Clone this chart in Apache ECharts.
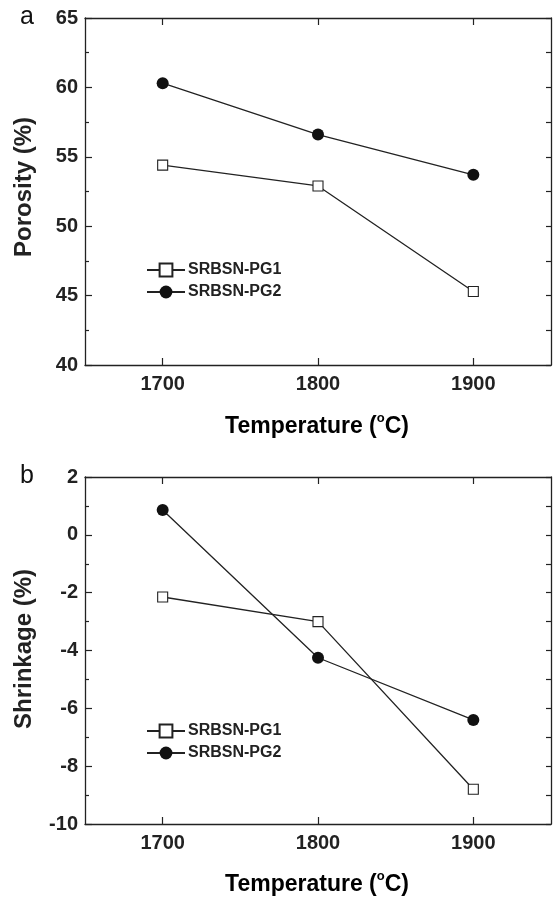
<!DOCTYPE html>
<html>
<head>
<meta charset="utf-8">
<script src="https://cdn.jsdelivr.net/npm/echarts@6/dist/echarts.min.js"></script>
<style>
  html, body { margin: 0; padding: 0; background: #fff; }
  #myChart { width: 553px; height: 899px; }
</style>
</head>
<body>
<div id="myChart"></div>
<script>
// temperatures (°C)
var temps = [1700, 1800, 1900]
var tickTemps = [1700, 1800, 1900]
// panel a - porosity (%)
var porosityPG1 = [54.4, 52.9, 45.3]
var porosityPG2 = [60.3, 56.6, 53.7]
// panel b - shrinkage (%)
var shrinkPG1 = [-2.15, -3.0, -8.8]
var shrinkPG2 = [0.86, -4.25, -6.4]
var seriesNames = ['SRBSN-PG1', 'SRBSN-PG2']

var ink = '#222'
var font = 'Liberation Sans, Arial, sans-serif'

function pairs (xs, ys) {
  return xs.map(function (x, i) { return [x, ys[i]] })
}

function xAxisPair (gridIndex) {
  var base = {
    gridIndex: gridIndex,
    type: 'value',
    min: 1650,
    max: 1950,
    splitLine: { show: false },
    axisLine: { onZero: false, lineStyle: { color: ink, width: 1.3 } },
    axisTick: { inside: true, length: 7, customValues: tickTemps, lineStyle: { color: ink, width: 1.2 } }
  }
  var bottom = Object.assign({}, base, {
    position: 'bottom',
    axisLabel: {
      customValues: tickTemps,
      margin: 9,
      color: ink,
      fontSize: 20,
      fontWeight: 'bold',
      fontFamily: font,
      formatter: function (v) { return String(v) }
    }
  })
  var top = Object.assign({}, base, {
    position: 'top',
    axisLabel: { show: false }
  })
  return [bottom, top]
}

function yAxisPair (gridIndex, min, max, interval) {
  var base = {
    gridIndex: gridIndex,
    type: 'value',
    min: min,
    max: max,
    interval: interval,
    splitLine: { show: false },
    axisLine: { onZero: false, lineStyle: { color: ink, width: 1.3 } },
    axisTick: { inside: true, length: 7, lineStyle: { color: ink, width: 1.2 } },
    minorTick: { show: true, splitNumber: 2, length: 4, lineStyle: { color: ink, width: 1.2 } },
    minorSplitLine: { show: false }
  }
  var left = Object.assign({}, base, {
    position: 'left',
    axisLabel: { margin: 7, color: ink, fontSize: 20, fontWeight: 'bold', fontFamily: font }
  })
  var right = Object.assign({}, base, {
    position: 'right',
    axisLabel: { show: false },
    axisTick: { inside: true, length: 5, lineStyle: { color: ink, width: 1.2 } },
    minorTick: { show: true, splitNumber: 2, length: 5, lineStyle: { color: ink, width: 1.2 } }
  })
  return [left, right]
}

function lineSeries (name, data, xi, yi, symbol) {
  var isRect = symbol === 'rect'
  return {
    name: name,
    type: 'line',
    xAxisIndex: xi,
    yAxisIndex: yi,
    data: data,
    symbol: symbol,
    symbolSize: isRect ? 10 : 12,
    showAllSymbol: true,
    lineStyle: { color: ink, width: 1.3 },
    itemStyle: isRect ? { color: '#fff', borderColor: ink, borderWidth: 1.1 } : { color: '#111', borderColor: '#111', borderWidth: 0 },
    z: isRect ? 3 : 4
  }
}

function legendAt (top) {
  return {
    left: 141,
    top: top,
    orient: 'vertical',
    itemWidth: 38,
    itemHeight: 16,
    itemGap: 6,
    data: seriesNames,
    textStyle: { color: ink, fontSize: 16, fontWeight: 'bold', fontFamily: font, padding: [0, 0, 0, -2] }
  }
}

var xTitleRich = {
  t: { fontSize: 23, lineHeight: 30, fontWeight: 'bold', fontFamily: font, color: ink },
  s: { fontSize: 13, lineHeight: 13, fontWeight: 'bold', fontFamily: font, color: ink, verticalAlign: 'top' }
}

var xA = xAxisPair(0)
var xB = xAxisPair(1)
var yA = yAxisPair(0, 40, 65, 5)
var yB = yAxisPair(1, -10, 2, 2)

var myChart = echarts.init(document.getElementById('myChart'), null, { renderer: 'canvas' })
myChart.setOption({
  backgroundColor: '#fff',
  animation: false,
  grid: [
    { left: 85, top: 18, width: 466, height: 347 },
    { left: 85, top: 477, width: 466, height: 347 }
  ],
  xAxis: [xA[0], xA[1], xB[0], xB[1]],
  yAxis: [yA[0], yA[1], yB[0], yB[1]],
  legend: [legendAt(257), legendAt(718)],
  series: [
    lineSeries(seriesNames[0], pairs(temps, porosityPG1), 0, 0, 'rect'),
    lineSeries(seriesNames[1], pairs(temps, porosityPG2), 0, 0, 'circle'),
    lineSeries(seriesNames[0], pairs(temps, shrinkPG1), 2, 2, 'rect'),
    lineSeries(seriesNames[1], pairs(temps, shrinkPG2), 2, 2, 'circle')
  ],
  graphic: [
    { type: 'text', x: 27, y: 17, style: { text: 'a', fontSize: 25, fontFamily: font, fill: '#111', align: 'center', verticalAlign: 'middle' } },
    { type: 'text', x: 27, y: 476, style: { text: 'b', fontSize: 25, fontFamily: font, fill: '#111', align: 'center', verticalAlign: 'middle' } },
    // y axis names
    { type: 'text', x: 24, y: 187, rotation: Math.PI / 2, style: { text: 'Porosity (%)', fontSize: 24, fontWeight: 'bold', fontFamily: font, fill: ink, align: 'center', verticalAlign: 'middle' } },
    { type: 'text', x: 24, y: 649, rotation: Math.PI / 2, style: { text: 'Shrinkage (%)', fontSize: 24, fontWeight: 'bold', fontFamily: font, fill: ink, align: 'center', verticalAlign: 'middle' } },
    // x axis names
    { type: 'text', x: 317, y: 427, style: { text: '{t|Temperature (}{s|o}{t|C)}', rich: xTitleRich, align: 'center', verticalAlign: 'middle' } },
    { type: 'text', x: 317, y: 885, style: { text: '{t|Temperature (}{s|o}{t|C)}', rich: xTitleRich, align: 'center', verticalAlign: 'middle' } }
  ]
})
</script>
</body>
</html>
